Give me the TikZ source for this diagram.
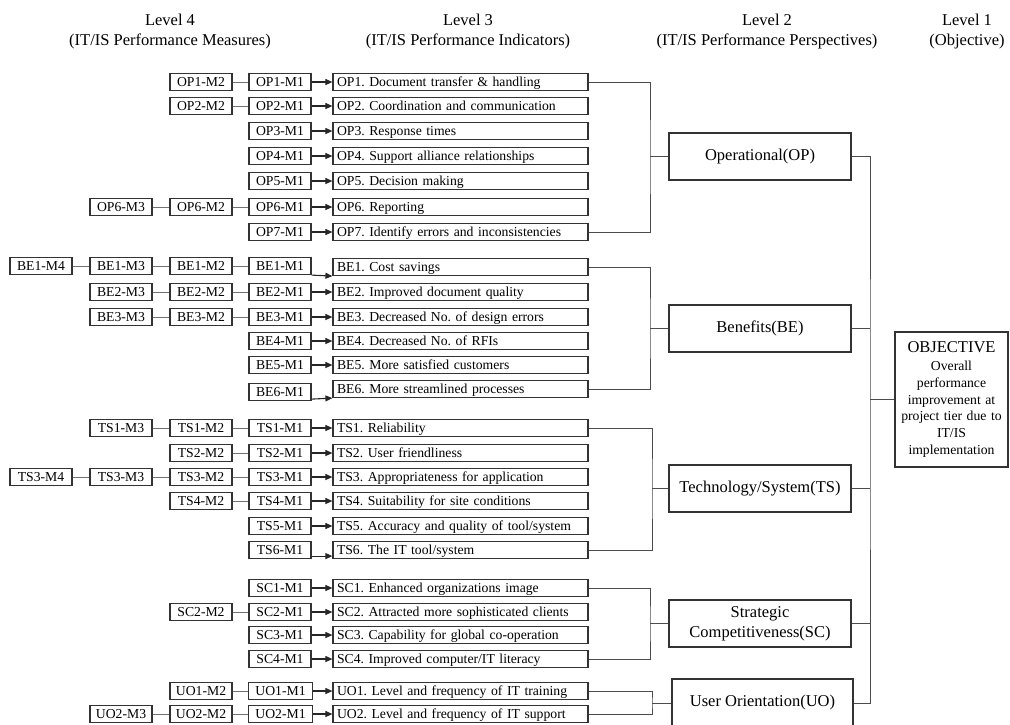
\documentclass[tikz,border=0pt]{standalone}
\usepackage{fontspec}
\setmainfont{Liberation Serif}
\usetikzlibrary{arrows.meta}
\frenchspacing
\newcommand{\smallfs}{\fontsize{13.7}{16.7}\selectfont}
\newcommand{\bigfs}{\fontsize{16.5}{20}\selectfont}

\begin{document}
\begin{tikzpicture}[x=1pt,y=-1pt,
  mbox/.style={draw=black!80, line width=1.2pt, minimum width=62pt, minimum height=17pt, inner sep=0pt,
               text height=9pt, text depth=0pt, font=\smallfs},
  ibox/.style={draw=black!80, line width=1.2pt, text width=247pt, inner xsep=4pt, inner ysep=0pt,
               text height=9pt, text depth=0pt, minimum height=17pt, align=left, font=\smallfs},
  pbox/.style={draw=black!80, line width=1.2pt, minimum width=182pt, minimum height=47pt, align=center, font=\bigfs},
  link/.style={draw=black!70, line width=1pt},
  chain/.style={draw=black!55, line width=1pt},
  arr/.style={draw=black!85, line width=1.1pt, -{Triangle[length=7pt,width=6pt]}},
  head/.style={align=center, font=\bigfs}
]
\useasboundingbox (0,0) rectangle (1010,724);

% column headings
\node[head] (h4) at (170,32) {Level 4\\(IT/IS Performance Measures)};
\node[head] (h3) at (468,32) {Level 3\\(IT/IS Performance Indicators)};
\node[head] (h2) at (767,32) {Level 2\\(IT/IS Performance Perspectives)};
\node[head] (h1) at (967,32) {Level 1\\(Objective)};

% ---------------- Level 3 indicators ----------------
\begin{scope}[every node/.append style={ibox}]
\node (OP1) at (460.5,82)  {OP1. Document transfer \& handling};
\node (OP2) at (460.5,106) {OP2. Coordination and communication};
\node (OP3) at (460.5,131) {OP3. Response times};
\node (OP4) at (460.5,156) {OP4. Support alliance relationships};
\node (OP5) at (460.5,181) {OP5. Decision making};
\node (OP6) at (460.5,207) {OP6. Reporting};
\node (OP7) at (460.5,232) {OP7. Identify errors and inconsistencies};

\node (BE1) at (460.5,267) {BE1. Cost savings};
\node (BE2) at (460.5,292) {BE2. Improved document quality};
\node (BE3) at (460.5,317) {BE3. Decreased No. of design errors};
\node (BE4) at (460.5,341) {BE4. Decreased No. of RFIs};
\node (BE5) at (460.5,365) {BE5. More satisfied customers};
\node (BE6) at (460.5,389) {BE6. More streamlined processes};

\node (TS1) at (460.5,428) {TS1. Reliability};
\node (TS2) at (460.5,453) {TS2. User friendliness};
\node (TS3) at (460.5,477) {TS3. Appropriateness for application};
\node (TS4) at (460.5,501) {TS4. Suitability for site conditions};
\node (TS5) at (460.5,526) {TS5. Accuracy and quality of tool/system};
\node (TS6) at (460.5,550) {TS6. The IT tool/system};

\node (SC1) at (460.5,588) {SC1. Enhanced organizations image};
\node (SC2) at (460.5,612) {SC2. Attracted more sophisticated clients};
\node (SC3) at (460.5,635) {SC3. Capability for global co-operation};
\node (SC4) at (460.5,659) {SC4. Improved computer/IT literacy};

\node (UO1) at (460.5,691) {UO1. Level and frequency of IT training};
\node (UO2) at (460.5,714) {UO2. Level and frequency of IT support};
\end{scope}

% ---------------- Level 4 measures ----------------
\begin{scope}[every node/.append style={mbox}]
% M1 column
\node (OP1a) at (280,82)  {OP1-M1};
\node (OP2a) at (280,106) {OP2-M1};
\node (OP3a) at (280,131) {OP3-M1};
\node (OP4a) at (280,156) {OP4-M1};
\node (OP5a) at (280,181) {OP5-M1};
\node (OP6a) at (280,207) {OP6-M1};
\node (OP7a) at (280,232) {OP7-M1};
\node (BE1a) at (280,266) {BE1-M1};
\node (BE2a) at (280,292) {BE2-M1};
\node (BE3a) at (280,317) {BE3-M1};
\node (BE4a) at (280,341) {BE4-M1};
\node (BE5a) at (280,365) {BE5-M1};
\node (BE6a) at (280,392) {BE6-M1};
\node (TS1a) at (280,428) {TS1-M1};
\node (TS2a) at (280,453) {TS2-M1};
\node (TS3a) at (280,477) {TS3-M1};
\node (TS4a) at (280,501) {TS4-M1};
\node (TS5a) at (280,526) {TS5-M1};
\node (TS6a) at (280,550) {TS6-M1};
\node (SC1a) at (280,588) {SC1-M1};
\node (SC2a) at (280,612) {SC2-M1};
\node (SC3a) at (280,635) {SC3-M1};
\node (SC4a) at (280,659) {SC4-M1};
\node[minimum width=64pt] (UO1a) at (280.5,691) {UO1-M1};
\node[minimum width=64pt] (UO2a) at (280.5,714) {UO2-M1};
% M2 column
\node (OP1b) at (201,82)  {OP1-M2};
\node (OP2b) at (201,106) {OP2-M2};
\node (OP6b) at (201,207) {OP6-M2};
\node (BE1b) at (201,266) {BE1-M2};
\node (BE2b) at (201,292) {BE2-M2};
\node (BE3b) at (201,317) {BE3-M2};
\node (TS1b) at (201,428) {TS1-M2};
\node (TS2b) at (201,453) {TS2-M2};
\node (TS3b) at (201,477) {TS3-M2};
\node (TS4b) at (201,501) {TS4-M2};
\node (SC2b) at (201,612) {SC2-M2};
\node (UO1b) at (201,691) {UO1-M2};
\node (UO2b) at (201,714) {UO2-M2};
% M3 column
\node (OP6c) at (121,207) {OP6-M3};
\node (BE1c) at (121,266) {BE1-M3};
\node (BE2c) at (121,292) {BE2-M3};
\node (BE3c) at (121,317) {BE3-M3};
\node (TS1c) at (121,428) {TS1-M3};
\node (TS3c) at (121,477) {TS3-M3};
\node (UO2c) at (121,714) {UO2-M3};
% M4 column
\node (BE1d) at (41,266) {BE1-M4};
\node (TS3d) at (41,477) {TS3-M4};
\end{scope}

% measure chains
\foreach \r in {OP1,OP2,OP6,BE1,BE2,BE3,TS1,TS2,TS3,TS4,SC2,UO1,UO2}
  \draw[chain] (\r b) -- (\r a);
\foreach \r in {OP6,BE1,BE2,BE3,TS1,TS3,UO2}
  \draw[chain] (\r c) -- (\r b);
\foreach \r in {BE1,TS3}
  \draw[chain] (\r d) -- (\r c);

% measure -> indicator arrows
\foreach \r in {OP1,OP2,OP3,OP4,OP5,OP6,OP7,BE2,BE3,BE4,BE5,TS1,TS2,TS3,TS4,TS5,SC1,SC2,SC3,SC4,UO1,UO2}
  \draw[arr] (\r a) -- (\r);
\draw[arr] (BE1a.south east) -- (BE1.south west);
\draw[arr] ([yshift=2pt]BE6a.south east) -- (BE6.south west);
\draw[arr] ([yshift=3pt]TS6a.south east) -- ([yshift=3pt]TS6.south west);

% ---------------- Level 2 perspectives ----------------
\node[pbox] (OPp) at (760,156.5) {Operational(OP)};
\node[pbox] (BEp) at (760,328.5) {Benefits(BE)};
\node[pbox] (TSp) at (760,488.5) {Technology/System(TS)};
\node[pbox] (SCp) at (760,623.5) {Strategic\\Competitiveness(SC)};
\node[pbox, minimum width=181pt, minimum height=48pt] (UOp) at (762.5,703) {User Orientation(UO)};

% brackets joining indicators to perspectives
\coordinate (OPj) at (650,156.5);
\coordinate (BEj) at (650,328.5);
\coordinate (TSj) at (652,488.5);
\coordinate (SCj) at (650,623.5);
\coordinate (UOj) at (652,703);
\foreach \g/\f/\l in {OP/OP1/OP7, BE/BE1/BE6, TS/TS1/TS6, SC/SC1/SC4, UO/UO1/UO2}{
  \draw[link] (\f.east) -| (\g j) |- (\l.east);
  \draw[link] (\g j) -- (\g p);
}

% ---------------- Level 1 objective ----------------
\node[draw=black!80, line width=1.2pt, minimum width=113pt, minimum height=135pt, text width=105pt,
      inner xsep=4pt, align=center, font=\smallfs] (obj) at (951.5,399.5)
  {{\bigfs OBJECTIVE}\\[1pt] Overall\\ performance\\ improvement at\\ project tier due to\\ IT/IS\\ implementation};

\coordinate (rj) at (870,399.5);
\draw[link] (OPp.east) -| (rj) |- (UOp.east);
\foreach \g in {BE,TS,SC}
  \draw[link] (\g p.east) -- (\g p.east -| rj);
\draw[link] (rj) -- (obj);

\end{tikzpicture}
\end{document}
